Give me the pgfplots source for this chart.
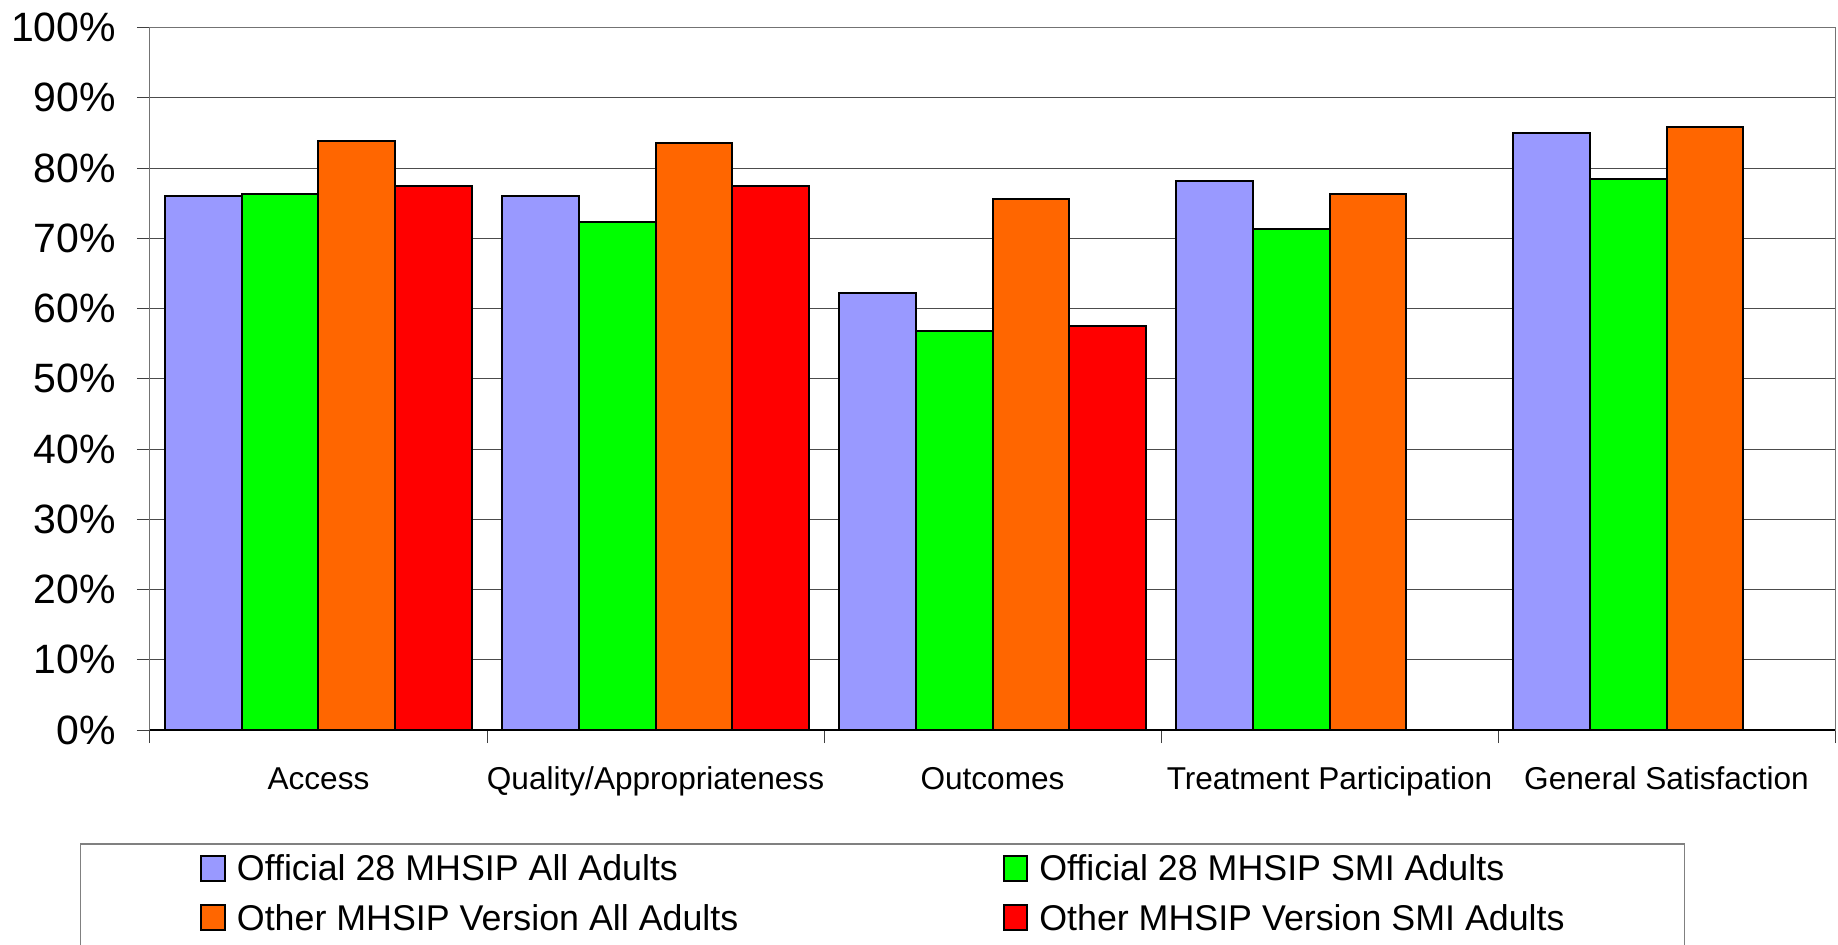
\documentclass[border=0pt]{standalone}
\usepackage{pgfplots}
\pgfplotsset{compat=1.18}
\usepackage{fontspec}
\setmainfont{Liberation Sans}
\definecolor{cBlue}{RGB}{153,153,255}
\definecolor{cGreen}{RGB}{0,255,0}
\definecolor{cOrange}{RGB}{255,102,0}
\definecolor{cRed}{RGB}{255,0,0}
\begin{document}
\begin{tikzpicture}
\begin{axis}[
  at={(0,0)}, anchor=south west,
  scale only axis, width=842.5pt, height=351.25pt,
  xmin=-0.5, xmax=4.5, ymin=0, ymax=100,
  ybar=0pt, bar width=38.4pt,
  xtick={-0.5,0.5,1.5,2.5,3.5,4.5},
  x tick label as interval,
  xticklabels={Access,Quality/Appropriateness,Outcomes,Treatment Participation,General Satisfaction},
  ytick={0,10,...,100},
  yticklabel={\pgfmathprintnumber{\tick}\%},
  /pgf/number format/assume math mode=true,
  tick align=outside, xtick pos=bottom, ytick pos=left,
  major tick length=6.5pt,
  tick style={black!75, line width=0.5pt},
  ymajorgrids, grid style={black!70, line width=0.5pt},
  axis line style={black!55, line width=0.5pt},
  yticklabel style={font=\fontsize{20.5}{24}\selectfont, anchor=east, inner sep=0pt, xshift=-10.3pt},
  xticklabel style={font=\fontsize{15.8}{19}\selectfont, anchor=base, inner sep=0pt, yshift=-23pt},
  extra y ticks={0}, extra y tick labels={},
  extra y tick style={grid=major, major grid style={black, line width=0.7pt}},
  legend columns=2,
  legend style={draw=black!50, line width=0.6pt, fill=white,
    inner xsep=60pt, inner ysep=5.3pt, row sep=8pt,
    at={(-0.04172,-0.16128)}, anchor=north west,
    nodes={text height=13pt, text depth=3.5pt, inner sep=0pt,
      font=\fontsize{17.9}{21}\selectfont},
    /tikz/every odd column/.append style={column sep=5.5pt},
    /tikz/every even column/.append style={column sep=132.2pt}},
  legend cell align=left,
  legend image code/.code={\draw[#1] (0pt,-4.6pt) rectangle (11.8pt,7.9pt);},
  every axis plot/.append style={draw=black, line width=1pt},
]
\addplot[fill=cBlue] coordinates {(0,76.0) (1,76.0) (2,62.2) (3,78.1) (4,85.0)};
\addplot[fill=cGreen] coordinates {(0,76.3) (1,72.3) (2,56.8) (3,71.3) (4,78.4)};
\addplot[fill=cOrange] coordinates {(0,83.8) (1,83.5) (2,75.6) (3,76.3) (4,85.9)};
\addplot[fill=cRed] coordinates {(0,77.5) (1,77.5) (2,57.5)};
\legend{Official 28 MHSIP All Adults, Official 28 MHSIP SMI Adults, Other MHSIP Version All Adults, Other MHSIP Version SMI Adults}
\end{axis}
\pgfresetboundingbox
\useasboundingbox (-75pt,-107pt) rectangle (844pt,365pt);
\end{tikzpicture}
\end{document}
